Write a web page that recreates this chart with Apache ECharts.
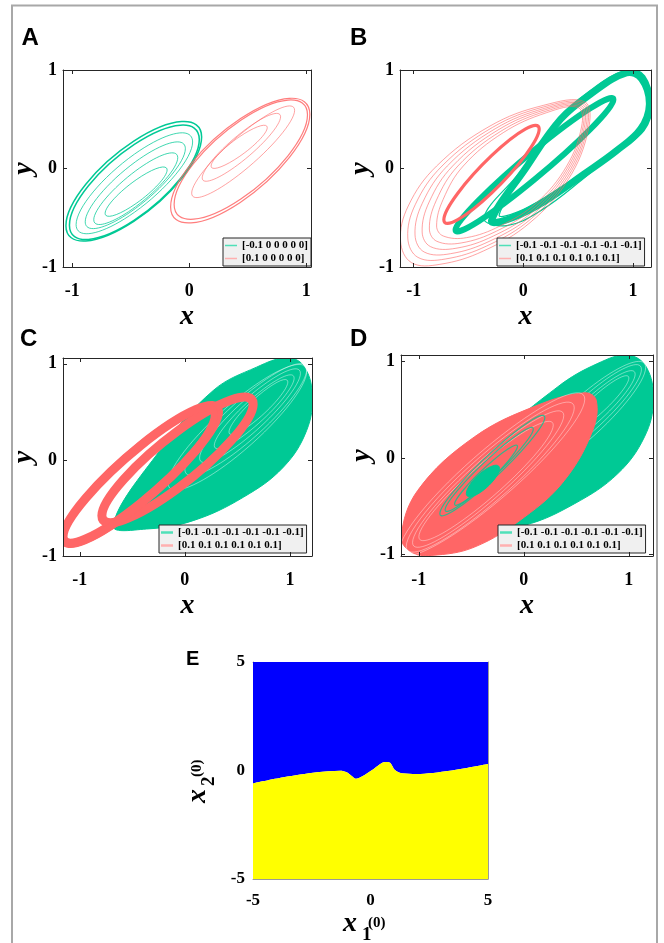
<!DOCTYPE html>
<html>
<head>
<meta charset="utf-8">
<script src="https://cdn.jsdelivr.net/npm/echarts@6/dist/echarts.min.js"></script>
<style>
html,body{margin:0;padding:0;background:#fff}
#chart{width:664px;height:943px}
</style>
</head>
<body>
<div id="chart"></div>
<script>
// ---------- tick values ----------
const ticksUnit = [-1, 0, 1];
const ticksBasin = [-5, 0, 5];

// ---------- legend entries ----------
const namesA = ['[-0.1 0 0 0 0 0]', '[0.1 0 0 0 0 0]'];
const namesBCD = ['[-0.1 -0.1 -0.1 -0.1 -0.1 -0.1]', '[0.1 0.1 0.1 0.1 0.1 0.1]'];

// ---------- orbits drawn as ellipses: [cx, cy, rx, ry, h] ----------
// (cx+rx, cy+ry) is the right-most point, h is the half vertical chord through the centre
const aGreenOuter = [[-0.475, -0.13, 0.58, 0.45, 0.407], [-0.47, -0.14, 0.555, 0.435, 0.385]];
const aGreenInner = [[-0.47, -0.15, 0.498, 0.419, 0.295], [-0.462, -0.17, 0.428, 0.371, 0.237],
                     [-0.458, -0.205, 0.359, 0.315, 0.182], [-0.455, -0.235, 0.265, 0.22, 0.12]];
const aRedOuter = [[0.435, 0.08, 0.595, 0.47, 0.424], [0.44, 0.09, 0.57, 0.455, 0.40]];
const aRedInner = [[0.46, 0.17, 0.44, 0.42, 0.2], [0.445, 0.215, 0.335, 0.31, 0.15], [0.426, 0.22, 0.24, 0.195, 0.10]];

const bGreenSmallRing = [[0.102, 0.038, 0.72, 0.66, 0.15]];
const bRedThick = [[-0.29, -0.06, 0.435, 0.46, 0.19]];

const cRedRings = [[-0.42, -0.15, 0.74, 0.65, 0.30], [-0.07, 0.0, 0.72, 0.58, 0.30]];
const cRedRingBulk = [[-0.44, -0.17, 0.72, 0.64, 0.31]];
const cGreenGaps = [[0.58, 0.42, 0.58, 0.52, 0.26], [0.62, 0.46, 0.48, 0.44, 0.21], [0.66, 0.5, 0.38, 0.35, 0.16],
                    [0.7, 0.55, 0.28, 0.26, 0.12], [0.5, 0.34, 0.66, 0.58, 0.3]];

const dGreenCore = [[-0.39, -0.24, 0.158, 0.13, 0.10]];
const dGreenStrands = [[-0.33, -0.12, 0.42, 0.42, 0.12], [-0.36, -0.18, 0.30, 0.30, 0.09], [-0.3, -0.08, 0.5, 0.5, 0.15]];
const dGreenGaps = [[0.62, 0.46, 0.5, 0.46, 0.22], [0.66, 0.5, 0.4, 0.37, 0.17], [0.7, 0.55, 0.3, 0.28, 0.12], [0.56, 0.4, 0.6, 0.54, 0.27]];
const dRedGaps = [[-0.32, -0.2, 0.8, 0.72, 0.3], [-0.34, -0.22, 0.72, 0.66, 0.26], [-0.36, -0.24, 0.64, 0.58, 0.22], [-0.3, -0.17, 0.88, 0.78, 0.33]];

// ---------- orbits traced as closed curves: 12 (x, y) points each ----------
const bGreenLargeRing = [
  [[-0.290,-0.530],[-0.100,-0.500],[0.200,-0.330],[0.550,-0.060],[0.850,0.180],[1.070,0.400],[1.150,0.650],[1.080,0.910],[0.940,0.970],[0.620,0.760],[0.340,0.500],[0.020,0.000]]
];
const bGreenLargeOuter = [
  [[-0.290,-0.530],[-0.100,-0.500],[0.200,-0.330],[0.550,-0.060],[0.850,0.180],[1.095,0.390],[1.170,0.650],[1.100,0.935],[0.950,0.995],[0.610,0.780],[0.340,0.500],[0.020,0.000]]
];
const bGreenLargeSpread = [
  [[-0.360,-0.500],[-0.150,-0.580],[0.170,-0.420],[0.530,-0.120],[0.850,0.180],[1.070,0.400],[1.150,0.650],[1.080,0.910],[0.940,0.970],[0.620,0.760],[0.340,0.500],[-0.040,-0.050]],
  [[-0.220,-0.470],[-0.050,-0.440],[0.230,-0.270],[0.570,-0.020],[0.850,0.180],[1.070,0.400],[1.150,0.650],[1.080,0.910],[0.940,0.970],[0.620,0.760],[0.340,0.500],[0.060,0.030]]
];
const bRedThin = [
  [[-1.120,-0.736],[-1.020,-0.956],[-0.761,-0.973],[-0.365,-0.838],[0.061,-0.550],[0.411,-0.110],[0.594,0.398],[0.563,0.675],[0.183,0.641],[-0.304,0.431],[-0.791,0.025],[-1.050,-0.381]],
  [[-1.054,-0.706],[-0.962,-0.902],[-0.712,-0.919],[-0.335,-0.787],[0.073,-0.509],[0.408,-0.083],[0.582,0.405],[0.551,0.664],[0.189,0.626],[-0.280,0.418],[-0.742,0.025],[-0.986,-0.367]],
  [[-0.988,-0.675],[-0.904,-0.848],[-0.664,-0.865],[-0.304,-0.736],[0.085,-0.469],[0.405,-0.056],[0.570,0.411],[0.539,0.652],[0.195,0.611],[-0.256,0.404],[-0.694,0.025],[-0.922,-0.354]],
  [[-0.923,-0.645],[-0.847,-0.793],[-0.615,-0.810],[-0.274,-0.686],[0.098,-0.428],[0.402,-0.029],[0.557,0.418],[0.526,0.641],[0.201,0.597],[-0.231,0.391],[-0.645,0.025],[-0.859,-0.340]],
  [[-0.857,-0.614],[-0.789,-0.739],[-0.567,-0.756],[-0.243,-0.635],[0.110,-0.388],[0.399,-0.002],[0.545,0.424],[0.514,0.629],[0.207,0.582],[-0.207,0.377],[-0.597,0.025],[-0.795,-0.327]],
  [[-0.791,-0.584],[-0.731,-0.685],[-0.518,-0.702],[-0.213,-0.584],[0.122,-0.347],[0.396,0.025],[0.533,0.431],[0.502,0.618],[0.213,0.567],[-0.183,0.364],[-0.548,0.025],[-0.731,-0.313]]
];
const cGreenCloud = [
  [[-0.683,-0.684],[-0.365,-0.719],[0.079,-0.632],[0.556,-0.389],[0.937,-0.076],[1.159,0.306],[1.213,0.688],[1.127,0.983],[0.968,1.063],[0.683,0.965],[0.270,0.722],[-0.238,0.097]]
];
const dGreenCloud = [
  [[-0.756,-0.684],[-0.470,-0.753],[0.006,-0.701],[0.483,-0.476],[0.895,-0.163],[1.149,0.219],[1.235,0.601],[1.165,0.948],[0.990,1.069],[0.705,0.983],[0.324,0.740],[-0.248,0.184]]
];
const dRedCloud = [
  [[-1.168,-0.823],[-1.073,-0.979],[-0.883,-1.014],[-0.470,-0.927],[0.006,-0.615],[0.387,-0.233],[0.657,0.288],[0.689,0.601],[0.578,0.677],[0.133,0.549],[-0.470,0.219],[-1.010,-0.337]]
];

// Panel E: basin boundary x2(0) as a function of x1(0)
const basinX1 = [-5, -3.70, -2.28, -1.29, -1.01, -0.80, -0.62, -0.37, 0.12, 0.62, 0.83, 1.04, 1.32, 1.96, 3.37, 5];
const basinX2 = [-0.59, -0.31, -0.08, -0.01, -0.08, -0.25, -0.38, -0.28, 0.06, 0.39, 0.36, 0.02, -0.13, -0.16, -0.01, 0.30];

// ---------- styling ----------
const SERIF = "'Liberation Serif','Times New Roman',serif";
const SANS = "'Liberation Sans',Arial,sans-serif";
const GREEN = '#00c995';
const RED = '#ff6666';
const WHITE = '#ffffff';
const AXIS = '#262626';

const panels = [
  { grid: { left: 63, top: 70, width: 248, height: 197 }, x: [-1.08, 1.04], y: [-1, 1], ticks: ticksUnit },
  { grid: { left: 400, top: 70, width: 251, height: 197 }, x: [-1.125, 1.165], y: [-1, 1], ticks: ticksUnit },
  { grid: { left: 63, top: 358, width: 249, height: 198 }, x: [-1.16, 1.21], y: [-1, 1.06], ticks: ticksUnit },
  { grid: { left: 401, top: 355, width: 252, height: 201 }, x: [-1.17, 1.23], y: [-1.02, 1.07], ticks: ticksUnit },
  { grid: { left: 253, top: 662, width: 235, height: 217 }, x: [-5, 5], y: [-5, 5], ticks: ticksBasin }
];

const grids = [], xAxes = [], yAxes = [];
panels.forEach((p, i) => {
  const basin = i === 4;
  grids.push(Object.assign({ containLabel: false }, p.grid));
  const lineCol = basin ? '#9a9a9a' : AXIS;
  const tick = { show: !basin, inside: true, length: 4, lineStyle: { color: AXIS, width: 1 }, customValues: p.ticks };
  const label = { customValues: p.ticks, fontFamily: SERIF, fontWeight: 'bold', fontSize: basin ? 17 : 18, color: '#000' };
  const nameStyle = { fontFamily: SERIF, fontStyle: 'italic', fontWeight: 'bold', fontSize: 28, color: '#000' };
  const common = { type: 'value', gridIndex: i, splitLine: { show: false }, z: basin ? 0 : 10 };
  const line = { show: true, onZero: false, lineStyle: { color: lineCol, width: 1 } };
  xAxes.push(Object.assign({}, common, {
    min: p.x[0], max: p.x[1], position: 'bottom', axisLine: line, axisTick: tick,
    axisLabel: Object.assign({ margin: basin ? 13 : 15 }, label),
    name: basin ? '' : 'x', nameLocation: 'middle', nameGap: 36, nameTextStyle: nameStyle
  }));
  xAxes.push(Object.assign({}, common, {
    min: p.x[0], max: p.x[1], position: 'top', axisLine: line, axisTick: tick, axisLabel: { show: false }
  }));
  yAxes.push(Object.assign({}, common, {
    min: p.y[0], max: p.y[1], position: 'left', axisLine: line, axisTick: tick,
    axisLabel: Object.assign({ margin: basin ? 8 : 6 }, label),
    name: basin ? '' : 'y', nameLocation: 'middle', nameGap: 22, nameTextStyle: nameStyle
  }));
  yAxes.push(Object.assign({}, common, {
    min: p.y[0], max: p.y[1], position: 'right', axisLine: line, axisTick: tick, axisLabel: { show: false }
  }));
});

function strokeStyle(color, width, opts) {
  opts = opts || {};
  return {
    fill: opts.fill ? color : 'none',
    stroke: color,
    lineWidth: width,
    opacity: opts.opacity == null ? 1 : opts.opacity
  };
}

// Ellipse through its conjugate half-diameters (rx, ry) and (0, h): four cubic arcs
const KAPPA = 0.5523;
const ARC = [[1,0],[1,KAPPA],[KAPPA,1],[0,1],[-KAPPA,1],[-1,KAPPA],[-1,0],[-1,-KAPPA],[-KAPPA,-1],[0,-1],[KAPPA,-1],[1,-KAPPA],[1,0]];
function ellipses(name, panel, list, color, width, opts) {
  return {
    type: 'custom', name: name, coordinateSystem: 'cartesian2d',
    xAxisIndex: panel * 2, yAxisIndex: panel * 2,
    clip: true, silent: true, animation: false,
    dimensions: ['cx', 'cy', 'rx', 'ry', 'h'], encode: { x: ['cx'], y: ['cy'] },
    itemStyle: { color: color },
    data: list,
    renderItem: function (params, api) {
      const cx = api.value(0), cy = api.value(1), rx = api.value(2), ry = api.value(3), h = api.value(4);
      const p = ARC.map(s => api.coord([cx + s[0] * rx, cy + s[0] * ry + s[1] * h]));
      let d = 'M' + p[0][0] + ' ' + p[0][1];
      for (let k = 1; k < p.length; k += 3) {
        d += ' C' + p[k][0] + ' ' + p[k][1] + ' ' + p[k + 1][0] + ' ' + p[k + 1][1] + ' ' + p[k + 2][0] + ' ' + p[k + 2][1];
      }
      d += ' Z';
      return { type: 'path', shape: { pathData: d }, style: strokeStyle(color, width, opts) };
    }
  };
}

// Closed smooth curve through traced points
function curves(name, panel, list, color, width, opts) {
  const n = list[0].length;
  const dims = [];
  for (let k = 0; k < n; k++) dims.push('x' + k, 'y' + k);
  return {
    type: 'custom', name: name, coordinateSystem: 'cartesian2d',
    xAxisIndex: panel * 2, yAxisIndex: panel * 2,
    clip: true, silent: true, animation: false,
    dimensions: dims,
    encode: { x: dims.filter((d, k) => k % 2 === 0), y: dims.filter((d, k) => k % 2 === 1) },
    itemStyle: { color: color },
    data: list.map(l => l.flat()),
    renderItem: function (params, api) {
      const pts = [];
      for (let k = 0; k < n; k++) pts.push(api.coord([api.value(2 * k), api.value(2 * k + 1)]));
      return { type: 'polygon', shape: { points: pts, smooth: 0.38 }, style: strokeStyle(color, width, opts) };
    }
  };
}

const series = [
  // A
  ellipses(namesA[0], 0, aGreenInner, GREEN, 1, { opacity: 0.75 }),
  ellipses(namesA[0], 0, aGreenOuter, GREEN, 1.5),
  ellipses(namesA[1], 0, aRedInner, RED, 1, { opacity: 0.6 }),
  ellipses(namesA[1], 0, aRedOuter, RED, 1.2, { opacity: 0.85 }),
  // B
  curves(namesBCD[0], 1, bGreenLargeRing, GREEN, 7),
  curves(namesBCD[0], 1, bGreenLargeOuter, GREEN, 3),
  curves(namesBCD[0], 1, bGreenLargeSpread, GREEN, 1.2),
  ellipses(namesBCD[0], 1, bGreenSmallRing, GREEN, 6),
  curves(namesBCD[1], 1, bRedThin, RED, 1, { opacity: 0.6 }),
  ellipses(namesBCD[1], 1, bRedThick, RED, 3.2),
  // C
  curves(namesBCD[0], 2, cGreenCloud, GREEN, 1, { fill: true }),
  ellipses('gaps', 2, cGreenGaps, WHITE, 0.8, { opacity: 0.55 }),
  ellipses(namesBCD[1], 2, cRedRings, RED, 9),
  ellipses(namesBCD[1], 2, cRedRingBulk, RED, 7),
  // D
  curves(namesBCD[0], 3, dGreenCloud, GREEN, 1, { fill: true }),
  ellipses('gaps', 3, dGreenGaps, WHITE, 0.8, { opacity: 0.55 }),
  curves(namesBCD[1], 3, dRedCloud, RED, 1, { fill: true }),
  ellipses('gaps', 3, dRedGaps, WHITE, 0.8, { opacity: 0.5 }),
  ellipses(namesBCD[0], 3, dGreenCore, GREEN, 1, { fill: true }),
  ellipses(namesBCD[0], 3, dGreenStrands, GREEN, 1.2, { opacity: 0.8 }),
  // E: basin of attraction split along the boundary curve
  {
    type: 'line', name: 'upper basin', xAxisIndex: 8, yAxisIndex: 8, silent: true, animation: false,
    data: basinX1.map((v, k) => [v, basinX2[k]]), smooth: 0.3, symbol: 'none',
    lineStyle: { width: 0 }, areaStyle: { origin: 'end', color: '#0000ff', opacity: 1 }
  },
  {
    type: 'line', name: 'lower basin', xAxisIndex: 8, yAxisIndex: 8, silent: true, animation: false,
    data: basinX1.map((v, k) => [v, basinX2[k]]), smooth: 0.3, symbol: 'none',
    lineStyle: { width: 0 }, areaStyle: { origin: 'start', color: '#ffff00', opacity: 1 }
  }
];

// ---------- legends ----------
function legendBox(left, top, names, redHeight) {
  return {
    left: left, top: top, orient: 'vertical', selectedMode: false,
    icon: 'rect', itemWidth: 12, itemHeight: redHeight, itemGap: 0,
    padding: [1, 3, 1, 2],
    backgroundColor: '#f0f0f0', borderColor: AXIS, borderWidth: 1, borderRadius: 0,
    textStyle: { fontFamily: SERIF, fontWeight: 'bold', fontSize: 11, color: '#000', lineHeight: 13 },
    data: [
      { name: names[0], itemStyle: { color: '#4fe0b8' } },
      { name: names[1], itemStyle: { color: '#ffb0b0' } }
    ]
  };
}

// ---------- panel letters and basin axis titles ----------
function letter(t, x, y, size) {
  return { type: 'text', x: x, y: y, style: { text: t, font: 'bold ' + size + 'px ' + SANS, fill: '#000', verticalAlign: 'middle' } };
}
const graphics = [
  { type: 'rect', shape: { x: 12, y: 5.5, width: 645, height: 960 }, style: { fill: 'none', stroke: '#a8a8a8', lineWidth: 2 }, silent: true },
  letter('A', 21.5, 38, 24),
  letter('B', 350, 38, 24),
  letter('C', 20, 339, 24),
  letter('D', 350, 339, 24),
  letter('E', 186, 659, 20),
  {
    type: 'group', x: 343, y: 938,
    children: [
      { type: 'text', x: 0, y: 0, style: { text: 'x', font: 'italic bold 28px ' + SERIF, fill: '#000', verticalAlign: 'bottom' } },
      { type: 'text', x: 19, y: 7, style: { text: '1', font: 'bold 19px ' + SERIF, fill: '#000', verticalAlign: 'bottom' } },
      { type: 'text', x: 25, y: -7, style: { text: '(0)', font: 'bold 15px ' + SERIF, fill: '#000', verticalAlign: 'bottom' } }
    ]
  },
  {
    type: 'group', x: 212, y: 803, rotation: Math.PI / 2,
    children: [
      { type: 'text', x: 0, y: 0, style: { text: 'x', font: 'italic bold 28px ' + SERIF, fill: '#000', verticalAlign: 'bottom' } },
      { type: 'text', x: 17, y: 7, style: { text: '2', font: 'bold 19px ' + SERIF, fill: '#000', verticalAlign: 'bottom' } },
      { type: 'text', x: 26, y: -7, style: { text: '(0)', font: 'bold 15px ' + SERIF, fill: '#000', verticalAlign: 'bottom' } }
    ]
  }
];

const chart = echarts.init(document.getElementById('chart'), null, { renderer: 'canvas' });
chart.setOption({
  animation: false,
  backgroundColor: '#ffffff',
  grid: grids,
  xAxis: xAxes,
  yAxis: yAxes,
  legend: [
    legendBox(223, 238, namesA, 1.5),
    legendBox(497, 238, namesBCD, 1.5),
    legendBox(159, 525, namesBCD, 2.5),
    legendBox(498, 525, namesBCD, 2.5)
  ],
  graphic: graphics,
  series: series
});
</script>
</body>
</html>
